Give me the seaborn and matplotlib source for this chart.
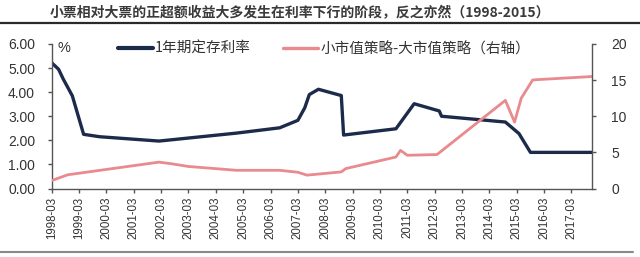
import matplotlib
matplotlib.use("Agg")
import matplotlib.pyplot as plt
from matplotlib.lines import Line2D
import pandas as pd
import seaborn as sns

# ---- data ----
rate_dates = ["1998-03", "1998-06", "1998-08", "1998-12", "1999-05", "1999-12", "2002-02",
              "2004-12", "2006-07", "2007-03", "2007-06", "2007-08", "2007-12",
              "2008-10", "2008-11", "2010-10", "2011-06", "2012-05", "2012-06",
              "2014-10", "2015-04", "2015-09", "2017-12"]
rate_values = [5.22, 4.95, 4.55, 3.85, 2.25, 2.15, 1.97,
               2.30, 2.52, 2.83, 3.35, 3.90, 4.12,
               3.86, 2.22, 2.48, 3.52, 3.22, 3.00,
               2.76, 2.28, 1.50, 1.50]

spread_dates = ["1998-03", "1998-10", "2002-02", "2002-07", "2003-03", "2004-12",
                "2006-07", "2007-03", "2007-07", "2008-10", "2008-12", "2010-10",
                "2010-12", "2011-03", "2012-04", "2014-10", "2015-02", "2015-05",
                "2015-10", "2017-12"]
spread_values = [1.1, 1.9, 3.65, 3.45, 3.05, 2.52,
                 2.52, 2.25, 1.85, 2.3, 2.76, 4.36,
                 5.28, 4.6, 4.7, 12.2, 9.19, 12.5,
                 15.03, 15.5]

tick_years = list(range(1998, 2018))
left_ticks = [0, 1, 2, 3, 4, 5, 6]
right_ticks = [0, 5, 10, 15, 20]

title = "小票相对大票的正超额收益大多发生在利率下行的阶段，反之亦然（1998-2015）"
label_rate = "1年期定存利率"
label_spread = "小市值策略-大市值策略（右轴）"

# ---- style ----
sns.set_theme(style="white")
plt.rcParams["font.family"] = ["Noto Sans CJK SC", "DejaVu Sans"]

BLUE = "#1c2b4a"
PINK = "#e98a8e"
AXC = "#555555"
TXT = "#333333"
NUMFONT = ["Liberation Sans", "DejaVu Sans"]

df_rate = pd.DataFrame({"date": pd.to_datetime(rate_dates), "value": rate_values})
df_spread = pd.DataFrame({"date": pd.to_datetime(spread_dates), "value": spread_values})

fig = plt.figure(figsize=(6.4, 2.57), dpi=100)
ax = fig.add_axes([0.0808, 0.2665, 0.8442, 0.5623])
ax2 = ax.twinx()

sns.lineplot(data=df_rate, x="date", y="value", ax=ax, color=BLUE, linewidth=2.4)
sns.lineplot(data=df_spread, x="date", y="value", ax=ax2, color=PINK, linewidth=2.0)

xmin, xmax = pd.Timestamp("1998-03-01"), pd.Timestamp("2017-12-01")
ax.set_xlim(xmin, xmax)
ax2.set_xlim(xmin, xmax)
ax.set_ylim(0, 6)
ax2.set_ylim(0, 20)

for a in (ax, ax2):
    a.set_xlabel("")
    a.set_ylabel("")

ticks = [pd.Timestamp(f"{y}-03-01") for y in tick_years]
ax.set_xticks(ticks)
ax.set_xticklabels([f"{y}-03" for y in tick_years], rotation=90,
                   fontsize=8.3, color=TXT, family=NUMFONT)
ax.set_yticks(left_ticks)
ax.set_yticklabels([f"{v:.2f}" for v in left_ticks], fontsize=10, color=TXT,
                   family=NUMFONT)
ax2.set_yticks(right_ticks)
ax2.set_yticklabels([str(v) for v in right_ticks], fontsize=10, color=TXT,
                    family=NUMFONT)

for a in (ax, ax2):
    a.grid(False)
    a.spines["top"].set_visible(False)
    for s in ("left", "right", "bottom"):
        a.spines[s].set_color(AXC)
        a.spines[s].set_linewidth(1.0)
    a.set_facecolor("none")
ax.spines["right"].set_visible(False)
ax2.spines["left"].set_visible(False)
ax2.spines["bottom"].set_visible(False)

ax.tick_params(axis="x", direction="out", length=3, width=1, color=AXC, pad=3,
               bottom=True)
ax.tick_params(axis="y", direction="out", length=3, width=1, color=AXC, pad=9,
               left=True)
ax2.tick_params(axis="y", direction="out", length=3, width=1, color=AXC, pad=11,
                right=True)

# percent unit label
fig.text(57 / 640, 1 - 48 / 257, "%", fontsize=10.5, color=TXT, va="center", ha="left",
         family=NUMFONT)

# legend
h1 = Line2D([], [], color=BLUE, linewidth=3.0)
h2 = Line2D([], [], color=PINK, linewidth=2.4)
leg = ax2.legend([h1, h2], [label_rate, label_spread], loc="center left",
                 bbox_to_anchor=(118 / 640, 1 - 49 / 257), bbox_transform=fig.transFigure,
                 frameon=False, ncol=2, borderpad=0, borderaxespad=0,
                 handlelength=2.4, handletextpad=0.15, columnspacing=2.2,
                 prop={"family": ["Noto Sans CJK SC", "DejaVu Sans"], "size": 10.5})
for t in leg.get_texts():
    t.set_color(TXT)

# title and rules
fig.text(50 / 640, 1 - 13.5 / 257, title, fontsize=10, color="#3a3a3a",
         fontweight="bold", va="center", ha="left")
fig.add_artist(Line2D([0, 1], [1 - 22.7 / 257, 1 - 22.7 / 257],
                      transform=fig.transFigure, color="#2a2a2a", linewidth=1.6))
fig.add_artist(Line2D([0, 633 / 640], [1 - 252 / 257, 1 - 252 / 257],
                      transform=fig.transFigure, color="#8a8a8a", linewidth=1.5))

fig.savefig("out.png", dpi=100, facecolor="white")
